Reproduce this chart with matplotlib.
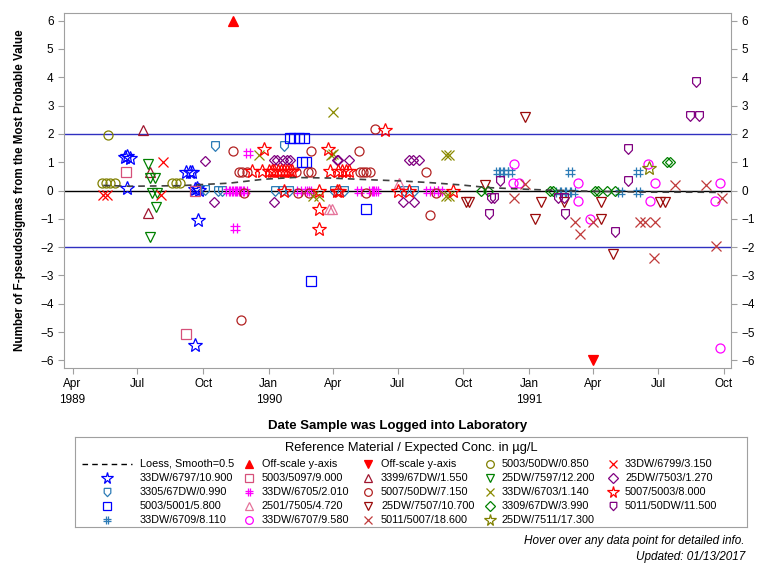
import matplotlib
matplotlib.use("Agg")
import matplotlib.pyplot as plt
import pandas as pd
from matplotlib.path import Path

plt.rcParams['font.family'] = ['Liberation Sans', 'DejaVu Sans']

# ---- data ----
s6797_dates = ['1989-06-13', '1989-06-17', '1989-06-20', '1989-06-16', '1989-09-07', '1989-09-12',
               '1989-09-16', '1989-09-19', '1989-09-22', '1989-09-25', '1989-09-24', '1989-09-19']
s6797_vals = [1.17, 1.22, 1.15, 0.08, 0.64, 0.67, 0.64, 0.05, 0.08, 0.02, -1.05, -5.45]

s3305_dates = ['1989-10-17', '1989-10-04', '1989-10-22', '1989-10-27', '1990-01-10', '1990-01-20',
               '1990-01-30', '1990-01-23', '1990-04-03', '1990-04-17', '1990-07-10', '1990-07-24']
s3305_vals = [1.58, 0.02, 0.0, 0.0, 0.0, 0.0, 0.0, 1.58, 0.0, 0.0, 0.0, 0.0]

s5001_dates = ['1990-01-31', '1990-02-06', '1990-02-12', '1990-02-20', '1990-02-17', '1990-02-22',
               '1990-03-01', '1990-05-17']
s5001_vals = [1.87, 1.87, 1.87, 1.87, 1.02, 1.02, -3.18, -0.67]

s6709_dates = ['1990-11-18', '1990-11-23', '1990-11-29', '1990-12-05', '1991-02-10', '1991-02-17',
               '1991-02-24', '1991-03-03', '1991-02-27', '1991-05-08', '1991-06-03', '1991-06-02']
s6709_vals = [0.64, 0.64, 0.64, 0.64, -0.07, -0.07, -0.07, -0.07, 0.64, -0.07, 0.64, -0.07]

s5097_dates = ['1989-06-15', '1989-09-20', '1989-09-07']
s5097_vals = [0.64, 0.0, -5.08]

s6705_dates = ['1989-12-03', '1989-11-05', '1989-11-09', '1989-11-13', '1989-11-17', '1989-11-21',
               '1989-11-25', '1989-11-29', '1989-11-15', '1990-02-12', '1990-02-23', '1990-02-27',
               '1990-05-08', '1990-05-24', '1990-05-28', '1990-06-01', '1990-08-12', '1990-08-24',
               '1990-08-29']
s6705_vals = [1.31, 0, 0, 0, 0, 0, 0, 0, -1.31, 0, 0, 0, 0, 0, 0, 0, 0, 0, 0]

s7505_dates = ['1990-03-26', '1990-03-30', '1990-07-02']
s7505_vals = [-0.66, -0.66, 0.28]

s6707_dates = ['1990-12-11', '1990-12-09', '1990-12-18', '1991-03-10', '1991-03-10', '1991-03-28',
               '1991-06-16', '1991-06-19', '1991-06-26', '1991-09-25', '1991-09-19', '1991-09-25']
s6707_vals = [0.93, 0.28, 0.28, 0.28, -0.37, -1.01, 0.93, -0.37, 0.28, 0.28, -0.37, -5.55]

high_dates = ['1989-11-12']
high_vals = [6.0]
low_dates = ['1991-03-31']
low_vals = [-6.0]

s3399_dates = ['1989-07-09', '1989-07-19', '1989-07-16']
s3399_vals = [2.14, 0.67, -0.81]

s50dw715_dates = ['1989-11-12', '1989-11-20', '1989-11-25', '1989-12-01', '1989-11-28', '1989-11-23',
                  '1990-02-08', '1990-02-25', '1990-03-01', '1990-03-01', '1990-02-11', '1990-02-27',
                  '1990-05-08', '1990-05-09', '1990-05-13', '1990-05-18', '1990-05-23', '1990-05-17',
                  '1990-05-30', '1990-08-09', '1990-08-15', '1990-08-23']
s50dw715_vals = [1.38, 0.64, 0.64, 0.64, -0.1, -4.58, 0.64, 0.64, 0.64, 1.38, -0.1, -0.1,
                 1.38, 0.64, 0.64, 0.64, 0.64, -0.1, 2.17, 0.64, -0.85, -0.1]

s7507_dates = ['1990-10-05', '1990-10-09', '1990-10-31', '1990-12-26', '1991-01-18', '1991-01-09',
               '1991-02-19', '1991-04-12', '1991-04-12', '1991-04-28', '1991-07-04', '1991-07-10']
s7507_vals = [-0.42, -0.42, 0.2, 2.61, -0.42, -1.01, -0.42, -0.42, -1.01, -2.23, -0.42, -0.42]

s5007_dates = ['1990-12-26', '1990-12-11', '1991-03-07', '1991-03-14', '1991-03-31', '1991-06-05',
               '1991-06-12', '1991-06-26', '1991-06-25', '1991-07-25', '1991-09-06', '1991-09-29',
               '1991-09-20']
s5007_vals = [0.22, -0.25, -1.1, -1.52, -1.1, -1.1, -1.1, -1.1, -2.37, 0.2, 0.2, -0.25, -1.96]

s50dw085_dates = ['1989-05-21', '1989-05-12', '1989-05-18', '1989-05-23', '1989-05-30', '1989-08-18',
                  '1989-08-24', '1989-08-29']
s50dw085_vals = [1.95, 0.25, 0.25, 0.25, 0.25, 0.25, 0.25, 0.25]

s7597_dates = ['1989-07-16', '1989-07-19', '1989-07-26', '1989-07-21', '1989-07-28', '1989-07-27',
               '1989-07-19']
s7597_vals = [0.93, 0.43, 0.43, -0.08, -0.08, -0.6, -1.63]

s6703_dates = ['1989-12-18', '1990-03-04', '1990-03-13', '1990-03-29', '1990-04-01', '1990-04-01',
               '1990-09-07', '1990-09-10', '1990-09-07', '1990-09-11']
s6703_vals = [1.26, -0.21, -0.21, 1.26, 1.3, 2.76, 1.26, 1.26, -0.21, -0.21]

s3309_dates = ['1990-10-25', '1990-11-04', '1991-01-30', '1991-02-03', '1991-04-04', '1991-04-07',
               '1991-04-20', '1991-05-01', '1991-07-13', '1991-07-18']
s3309_vals = [0, 0, 0, 0, 0, 0, 0, 0, 0.99, 0.99]

s7511_dates = ['1991-06-18']
s7511_vals = [0.78]

s6799_dates = ['1989-05-14', '1989-05-19', '1989-08-06', '1989-08-03']
s6799_vals = [-0.17, -0.17, 0.99, -0.17]

s7503_dates = ['1989-10-04', '1989-10-16', '1990-01-09', '1990-01-12', '1990-01-21', '1990-01-26',
               '1990-01-31', '1990-01-09', '1990-04-06', '1990-04-08', '1990-04-24', '1990-07-08',
               '1990-07-24', '1990-07-17', '1990-07-22', '1990-07-30']
s7503_vals = [1.05, -0.39, 1.07, 1.07, 1.07, 1.07, 1.07, -0.39, 1.07, 1.07, 1.07, -0.39,
              -0.39, 1.07, 1.07, 1.07]

s5003_dates = ['1989-12-25', '1989-12-09', '1989-12-23', '1990-01-01', '1990-01-05', '1990-01-09',
               '1990-01-14', '1990-01-18', '1990-01-22', '1990-01-26', '1990-01-31', '1990-02-03',
               '1990-01-23', '1990-03-25', '1990-03-28', '1990-04-08', '1990-04-13', '1990-04-19',
               '1990-04-24', '1990-03-13', '1990-04-06', '1990-04-10', '1990-03-13', '1990-03-13',
               '1990-06-13', '1990-07-01', '1990-07-16', '1990-09-17']
s5003_vals = [1.46, 0.69, 0.69, 0.69, 0.69, 0.69, 0.69, 0.69, 0.69, 0.69, 0.69, 0.69,
              0.0, 1.46, 0.69, 0.69, 0.69, 0.69, 0.69, 0.0, 0.0, 0.0, -0.66, -1.37,
              2.14, 0.0, 0.0, 0.0]

s50dw115_dates = ['1990-11-21', '1990-11-09', '1990-11-13', '1990-11-06', '1991-02-10', '1991-02-19',
                  '1991-02-21', '1991-05-01', '1991-05-19', '1991-05-19', '1991-08-14', '1991-08-27',
                  '1991-08-23']
s50dw115_vals = [0.34, -0.25, -0.25, -0.84, -0.28, -0.28, -0.84, -1.46, 1.48, 0.32, 2.64, 2.64, 3.82]

loess_dates = ['1989-05-14', '1989-06-20', '1989-08-29', '1989-11-07', '1989-12-26', '1990-02-06',
               '1990-03-28', '1990-05-22', '1990-07-03', '1990-08-14', '1990-09-26', '1990-11-06',
               '1991-01-01', '1991-02-12', '1991-04-09', '1991-06-19', '1991-08-28', '1991-09-29']
loess_vals = [0.18, 0.15, 0.17, 0.26, 0.40, 0.46, 0.44, 0.38, 0.34, 0.28, 0.20, 0.10,
              0.04, 0.0, -0.03, -0.06, -0.06, -0.07]

tick_dates = ['1989-04-01', '1989-07-01', '1989-10-01', '1990-01-01', '1990-04-01', '1990-07-01',
              '1990-10-01', '1991-01-01', '1991-04-01', '1991-07-01', '1991-10-01']
tick_labels = ['Apr\n1989', 'Jul', 'Oct', 'Jan\n1990', 'Apr', 'Jul', 'Oct', 'Jan\n1991', 'Apr', 'Jul', 'Oct']

# ---- custom SAS-like markers ----
shield = [(-0.8, 1), (0.8, 1), (0.8, -0.15), (0, -1), (-0.8, -0.15), (-0.8, 1)]
hash_mark = Path([(-0.35, -1), (-0.35, 1), (0.35, -1), (0.35, 1),
                  (-1, -0.35), (1, -0.35), (-1, 0.35), (1, 0.35)],
                 [Path.MOVETO, Path.LINETO] * 4)

# label, dates, values, marker, color, size, filled
series = [
    ('33DW/6797/10.900', s6797_dates, s6797_vals, '*', '#0000FF', 10, False),
    ('3305/67DW/0.990', s3305_dates, s3305_vals, shield, '#2C7BB6', 7, False),
    ('5003/5001/5.800', s5001_dates, s5001_vals, 's', '#0000FF', 6.5, False),
    ('33DW/6709/8.110', s6709_dates, s6709_vals, hash_mark, '#2C7BB6', 6.5, False),
    ('Off-scale y-axis', high_dates, high_vals, '^', '#FF0000', 7, True),
    ('5003/5097/9.000', s5097_dates, s5097_vals, 's', '#D6507A', 6.5, False),
    ('33DW/6705/2.010', s6705_dates, s6705_vals, hash_mark, '#FF00FF', 6.5, False),
    ('2501/7505/4.720', s7505_dates, s7505_vals, '^', '#E5739A', 6.5, False),
    ('33DW/6707/9.580', s6707_dates, s6707_vals, 'o', '#FF00FF', 6.5, False),
    ('Off-scale y-axis', low_dates, low_vals, 'v', '#FF0000', 7, True),
    ('3399/67DW/1.550', s3399_dates, s3399_vals, '^', '#A0162F', 6.5, False),
    ('5007/50DW/7.150', s50dw715_dates, s50dw715_vals, 'o', '#B22222', 6.5, False),
    ('25DW/7507/10.700', s7507_dates, s7507_vals, 'v', '#9A0A0A', 6.5, False),
    ('5011/5007/18.600', s5007_dates, s5007_vals, 'x', '#C03A3A', 6.5, False),
    ('5003/50DW/0.850', s50dw085_dates, s50dw085_vals, 'o', '#808000', 6.5, False),
    ('25DW/7597/12.200', s7597_dates, s7597_vals, 'v', '#008000', 6.5, False),
    ('33DW/6703/1.140', s6703_dates, s6703_vals, 'x', '#8A8A00', 6.5, False),
    ('3309/67DW/3.990', s3309_dates, s3309_vals, 'D', '#008000', 5.5, False),
    ('25DW/7511/17.300', s7511_dates, s7511_vals, '*', '#808000', 10, False),
    ('33DW/6799/3.150', s6799_dates, s6799_vals, 'x', '#FF0000', 6.5, False),
    ('25DW/7503/1.270', s7503_dates, s7503_vals, 'D', '#800080', 5.5, False),
    ('5007/5003/8.000', s5003_dates, s5003_vals, '*', '#FF0000', 10, False),
    ('5011/50DW/11.500', s50dw115_dates, s50dw115_vals, shield, '#800080', 7, False),
]

fig = plt.figure(figsize=(7.68, 5.76), dpi=100)
ax = fig.add_axes([64 / 768, 1 - 368 / 576, 667 / 768, 355 / 576])

ax.axhline(0, color='black', lw=1, zorder=1)
ax.axhline(2, color='#3030C0', lw=1, zorder=1)
ax.axhline(-2, color='#3030C0', lw=1, zorder=1)

for label, d, v, m, c, ms, filled in series:
    ax.plot(pd.to_datetime(d), v, linestyle='none', marker=m, ms=ms,
            mfc=c if filled else 'none', mec=c, mew=0.9, zorder=3)

ax.plot(pd.to_datetime(loess_dates), loess_vals, color='#404040', lw=1.2,
        ls=(0, (4, 3)), zorder=4)

ax.set_xlim(pd.Timestamp('1989-03-20'), pd.Timestamp('1991-10-11'))
ax.set_ylim(-6.27, 6.27)
ax.set_xticks(pd.to_datetime(tick_dates))
ax.set_xticklabels(tick_labels, linespacing=1.45)
ax.set_yticks(range(-6, 7))
ax.tick_params(axis='both', direction='out', length=4, color='#A0A0A0',
               labelsize=8.5, labelcolor='black')
ax.tick_params(axis='y', right=True, labelright=True)
for sp in ax.spines.values():
    sp.set_color('#A0A0A0')

ax.set_xlabel('Date Sample was Logged into Laboratory', fontsize=9.5,
              fontweight='bold', labelpad=10)
ax.set_ylabel('Number of F-pseudosigmas from the Most Probable Value', fontsize=8.4,
              fontweight='bold', labelpad=10)

# ---- legend box drawn in pixel coordinates ----
lax = fig.add_axes([75 / 768, 1 - 527 / 576, 672 / 768, 90 / 576])
lax.set_xlim(75, 747)
lax.set_ylim(527, 437)
lax.set_xticks([])
lax.set_yticks([])
for sp in lax.spines.values():
    sp.set_color('#A0A0A0')
lax.text(411, 448, 'Reference Material / Expected Conc. in \u00b5g/L', ha='center',
         va='center', fontsize=9.3)

col_mark_x = [107, 249, 368, 490, 613]
col_text_x = [140, 262, 381, 502, 625]
row_y = [464, 478, 492, 506, 520]

lax.plot([82, 132], [row_y[0], row_y[0]], color='black', lw=1, ls=(0, (4, 3)))
lax.text(col_text_x[0], row_y[0], 'Loess, Smooth=0.5', va='center', fontsize=7.8)
for i, (label, d, v, m, c, ms, filled) in enumerate(series):
    k = i + 1
    col, row = k // 5, k % 5
    lax.plot([col_mark_x[col]], [row_y[row]], marker=m, ms=ms * 0.85, mec=c,
             mfc=c if filled else 'none', mew=0.9, linestyle='none')
    lax.text(col_text_x[col], row_y[row], label, va='center', fontsize=7.8)

fig.text(745 / 768, 1 - 541 / 576, 'Hover over any data point for detailed info.',
         ha='right', va='center', style='italic', fontsize=8.5)
fig.text(745 / 768, 1 - 557 / 576, 'Updated: 01/13/2017', ha='right', va='center',
         style='italic', fontsize=8.5)

fig.savefig('out.png', dpi=100)
